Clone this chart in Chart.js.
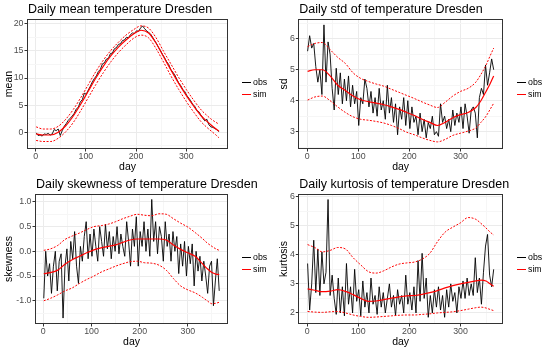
<!DOCTYPE html>
<html>
<head>
<meta charset="utf-8">
<script src="https://cdn.jsdelivr.net/npm/chart.js@4.4.0/dist/chart.umd.min.js"></script>
<style>
  body { margin: 0; background: #fff; font-family: "Liberation Sans", Arial, sans-serif; }
  #wrap { position: relative; width: 550px; height: 350px; }
  .panel { position: absolute; width: 275px; height: 175px; }
  .legend { position: absolute; left: 242px; top: 77px; }
  .item { position: relative; height: 11.5px; line-height: 11.5px; font-size: 8.8px; color: #000; padding-left: 11px; }
  .key { position: absolute; left: 0; top: 5px; width: 9px; height: 1.4px; }
</style>
</head>
<body>
<div id="wrap">
  <div class="panel" style="left:0;top:0"><canvas id="c1" width="275" height="175"></canvas>
    <div class="legend"><div class="item"><span class="key" style="background:#000"></span>obs</div><div class="item"><span class="key" style="background:red"></span>sim</div></div></div>
  <div class="panel" style="left:275px;top:0"><canvas id="c2" width="275" height="175"></canvas>
    <div class="legend"><div class="item"><span class="key" style="background:#000"></span>obs</div><div class="item"><span class="key" style="background:red"></span>sim</div></div></div>
  <div class="panel" style="left:0;top:175px"><canvas id="c3" width="275" height="175"></canvas>
    <div class="legend"><div class="item"><span class="key" style="background:#000"></span>obs</div><div class="item"><span class="key" style="background:red"></span>sim</div></div></div>
  <div class="panel" style="left:275px;top:175px"><canvas id="c4" width="275" height="175"></canvas>
    <div class="legend"><div class="item"><span class="key" style="background:#000"></span>obs</div><div class="item"><span class="key" style="background:red"></span>sim</div></div></div>
</div>
<script>
  // Tage der Beobachtungen (jeder 4. Tag) und der Simulationskurven
  const obsDays = [1,5,9,13,17,21,25,29,33,37,41,45,49,53,57,61,65,69,73,77,81,85,89,93,97,101,105,109,113,117,121,125,129,133,137,141,145,149,153,157,161,165,169,173,177,181,185,189,193,197,201,205,209,213,217,221,225,229,233,237,241,245,249,253,257,261,265,269,273,277,281,285,289,293,297,301,305,309,313,317,321,325,329,333,337,341,345,349,353,357,361,365];
  const simDays = [1,15,30,45,60,75,90,105,120,135,150,165,180,195,210,225,240,255,270,285,300,315,330,340,350,358,365];

  // x-Achse
  const xMajor = [0, 100, 200, 300];
  const xMinor = [50, 150, 250, 350];

  // Mittelwert
  const meanObs = [-0.1,-0.6,-0.5,-0.7,-0.3,-0.4,-0.2,-0.5,-0.3,0.5,
    0.3,0.6,-0.6,0.3,1.1,1.6,2.2,2.6,3.0,3.5,
    4.3,4.6,5.6,6.0,7.2,7.0,7.8,8.5,9.3,9.9,
    10.4,11.2,11.6,12.6,12.8,13.5,13.6,14.5,14.6,15.4,
    15.6,16.2,16.3,16.9,17.0,17.5,17.4,18.0,18.3,18.2,
    18.7,18.6,19.2,19.6,19.1,18.7,18.4,18.1,17.5,16.9,
    16.3,15.6,15.0,14.3,13.7,13.0,12.5,11.6,11.1,10.6,
    9.8,9.1,8.6,7.9,7.5,6.8,6.3,5.8,5.1,4.8,
    4.0,3.8,3.2,2.6,2.1,2.4,1.4,1.0,0.9,0.7,
    0.5,0.1];
  const meanSim = [-0.3,-0.5,-0.5,0.0,1.2,3.0,5.2,7.6,10.0,12.2,14.1,15.7,17.0,18.1,18.8,18.3,16.4,13.9,11.4,9.0,6.8,4.8,3.0,2.1,1.3,0.7,0.2];
  const meanUpper = [1.0,0.6,0.6,1.1,2.4,4.2,6.4,8.8,11.2,13.3,15.1,16.6,17.9,18.9,19.6,19.2,17.4,14.9,12.5,10.1,7.9,5.9,4.1,3.2,2.4,1.9,1.5];
  const meanLower = [-1.5,-1.7,-1.7,-1.1,0.1,1.8,4.0,6.4,8.8,11.0,13.0,14.7,16.1,17.3,17.9,17.4,15.4,12.9,10.3,7.9,5.7,3.7,1.9,1.0,0.2,-0.4,-1.0];
  const meanTicks = [0, 5, 10, 15, 20];
  const meanMinor = [-2.5, 2.5, 7.5, 12.5, 17.5];

  // Standardabweichung
  const sdObs = [5.6,6.1,5.7,5.85,5.1,4.6,5.0,4.2,6.45,4.6,
    5.9,5.5,4.4,3.7,5.05,4.2,4.9,3.9,4.7,4.0,
    4.8,3.8,4.5,3.9,4.3,3.2,4.1,3.9,4.7,4.4,
    3.8,4.3,3.6,4.1,3.5,4.4,3.7,4.0,3.4,4.5,
    3.6,4.1,3.3,3.9,2.9,3.8,3.4,4.1,3.2,4.0,
    3.1,3.8,3.3,3.5,2.9,3.6,3.0,3.4,2.8,3.3,
    3.1,3.5,2.9,3.0,2.85,3.9,3.3,3.5,3.1,3.4,
    3.0,3.7,3.2,3.6,3.3,3.8,3.1,3.9,3.5,2.95,
    3.7,3.8,3.6,2.8,4.1,4.4,4.2,5.15,4.5,4.9,
    5.35,5.0];
  const sdSim = [4.95,5.0,5.0,4.8,4.5,4.33,4.15,4.03,3.97,3.92,3.87,3.8,3.72,3.62,3.52,3.4,3.3,3.2,3.3,3.45,3.55,3.62,3.78,4.0,4.3,4.55,4.8];
  const sdUpper = [5.75,5.85,5.88,5.65,5.4,5.2,4.9,4.72,4.62,4.54,4.47,4.37,4.27,4.17,4.07,3.96,3.86,3.78,3.95,4.15,4.3,4.4,4.6,4.85,5.15,5.45,5.7];
  const sdLower = [4.02,4.12,4.15,4.0,3.8,3.62,3.48,3.4,3.37,3.33,3.28,3.2,3.1,2.98,2.9,2.8,2.72,2.67,2.75,2.88,2.95,3.02,3.12,3.3,3.5,3.72,3.92];
  const sdTicks = [3, 4, 5, 6];
  const sdMinor = [2.5, 3.5, 4.5, 5.5, 6.5];

  // Schiefe
  const skewObs = [-0.95,0.0,-0.5,-0.25,-0.85,-0.3,0.0,-0.8,-0.2,-0.05,
    -1.35,-0.3,0.05,-0.6,0.2,-0.15,0.4,-0.3,-0.65,0.1,
    -0.2,0.3,0.6,-0.15,0.35,-0.1,0.45,0.1,-0.2,0.5,
    0.2,-0.1,0.55,0.05,0.4,-0.15,0.3,0.0,0.5,-0.05,
    0.35,0.1,-0.1,0.6,0.2,-0.3,0.45,0.1,0.7,-0.3,
    0.4,0.1,0.6,0.0,0.45,-0.1,1.05,0.2,0.6,-0.05,
    0.5,0.3,-0.2,0.6,0.1,0.35,-0.2,0.4,0.0,0.3,
    -0.45,0.15,-0.3,0.2,-0.5,0.1,-0.25,0.15,-0.7,0.0,
    -0.4,-0.1,-0.6,-0.2,-0.5,-0.85,-0.3,-0.2,-1.1,-0.6,
    -0.15,-0.8];
  const skewSim = [-0.45,-0.43,-0.38,-0.26,-0.17,-0.1,-0.03,0.03,0.07,0.1,0.13,0.18,0.23,0.25,0.25,0.25,0.25,0.23,0.13,0.04,-0.03,-0.1,-0.25,-0.35,-0.43,-0.46,-0.47];
  const skewUpper = [0.02,0.05,0.12,0.24,0.31,0.37,0.44,0.5,0.52,0.55,0.6,0.66,0.71,0.75,0.73,0.72,0.76,0.75,0.66,0.57,0.49,0.38,0.26,0.17,0.1,0.05,0.02];
  const skewLower = [-1.0,-0.95,-0.88,-0.8,-0.74,-0.65,-0.57,-0.5,-0.42,-0.36,-0.3,-0.25,-0.21,-0.2,-0.23,-0.24,-0.28,-0.38,-0.55,-0.7,-0.78,-0.84,-0.93,-1.0,-1.06,-1.05,-1.03];
  const skewTicks = [-1.0, -0.5, 0.0, 0.5, 1.0];
  const skewMinor = [-1.25, -0.75, -0.25, 0.25, 0.75];

  // Kurtosis
  const kurtObs = [3.7,2.1,3.0,4.5,2.7,4.2,2.6,4.1,3.0,3.4,
    5.9,2.6,3.3,2.5,1.95,3.2,2.0,2.9,1.9,3.7,
    2.3,2.9,2.0,3.5,2.4,2.8,1.9,3.1,2.2,2.7,
    2.0,3.2,2.3,2.6,1.95,2.9,2.2,2.7,2.0,2.5,
    3.0,2.2,2.6,1.9,2.8,2.3,2.6,2.0,3.3,2.3,
    2.7,2.1,2.9,2.0,3.8,2.4,4.05,2.5,3.2,1.85,
    2.6,2.0,2.8,2.2,2.9,2.1,2.6,1.85,2.8,2.2,
    3.0,2.4,2.7,2.0,2.9,2.5,3.1,2.5,3.2,2.6,
    3.0,2.6,3.9,2.7,3.2,2.3,3.4,4.3,4.7,3.3,
    2.9,3.5];
  const kurtSim = [2.83,2.78,2.73,2.75,2.8,2.74,2.63,2.5,2.4,2.41,2.46,2.51,2.55,2.59,2.6,2.64,2.7,2.77,2.86,2.94,3.0,3.05,3.1,3.13,3.1,3.0,2.92];
  const kurtUpper = [4.35,4.25,4.1,4.15,4.25,4.2,3.9,3.65,3.42,3.37,3.45,3.58,3.68,3.72,3.75,3.85,4.05,4.45,4.78,4.95,5.1,5.28,5.22,5.08,4.92,4.78,4.68];
  const kurtLower = [2.05,2.03,2.02,2.04,2.05,2.0,1.93,1.88,1.85,1.86,1.88,1.9,1.92,1.93,1.93,1.95,1.97,2.0,2.02,2.04,2.08,2.13,2.18,2.2,2.17,2.12,2.08];
  const kurtTicks = [2, 3, 4, 5, 6];
  const kurtMinor = [2.5, 3.5, 4.5, 5.5];

  Chart.defaults.font.family = '"Liberation Sans", Arial, Helvetica, sans-serif';

  // Rahmen um die Zeichenfläche (wie theme_bw)
  const panelBorder = {
    id: 'panelBorder',
    afterDraw(chart) {
      const { ctx, chartArea: a } = chart;
      ctx.save();
      ctx.strokeStyle = '#333333';
      ctx.lineWidth = 1;
      ctx.strokeRect(Math.round(a.left) + 0.5, Math.round(a.top) + 0.5,
        Math.round(a.right - a.left) - 1, Math.round(a.bottom - a.top) - 1);
      ctx.restore();
    }
  };

  // Titel linksbündig an der Zeichenfläche, darf darüber hinausragen
  const panelTitle = {
    id: 'panelTitle',
    afterDraw(chart, args, opts) {
      const ctx = chart.ctx;
      ctx.save();
      ctx.font = '12.5px "Liberation Sans", Arial, sans-serif';
      ctx.fillStyle = '#000';
      ctx.textBaseline = 'middle';
      ctx.textAlign = 'left';
      ctx.fillText(opts.text, chart.chartArea.left + 1, 9.5);
      ctx.restore();
    }
  };

  function toPoints(days, vals) {
    return days.map((d, i) => ({ x: d, y: vals[i] }));
  }

  function gridFor(major) {
    return {
      color: c => (c.tick && major.includes(c.tick.value)) ? '#EBEBEB' : '#F6F6F6',
      tickColor: c => (c.tick && major.includes(c.tick.value)) ? '#333333' : 'rgba(0,0,0,0)',
      tickLength: 2.5,
      lineWidth: 1
    };
  }

  function drawPanel(id, p) {
    const dashed = { borderColor: 'red', borderWidth: 1, borderDash: [2, 1.5], cubicInterpolationMode: 'monotone' };
    new Chart(document.getElementById(id), {
      type: 'line',
      data: {
        datasets: [
          { label: 'upper', data: toPoints(simDays, p.upper), ...dashed },
          { label: 'lower', data: toPoints(simDays, p.lower), ...dashed },
          { label: 'sim', data: toPoints(simDays, p.sim), borderColor: 'red', borderWidth: 1.2, cubicInterpolationMode: 'monotone' },
          { label: 'obs', data: toPoints(obsDays, p.obs), borderColor: '#000', borderWidth: 0.9 }
        ]
      },
      options: {
        responsive: false,
        animation: false,
        devicePixelRatio: 1,
        layout: { padding: { left: 0, right: 47, top: 19, bottom: 0 } },
        elements: { point: { radius: 0 } },
        plugins: {
          legend: { display: false },
          tooltip: { enabled: false },
          title: { display: false },
          panelTitle: { text: p.title }
        },
        scales: {
          x: {
            type: 'linear', min: -17.2, max: 383.2,
            afterBuildTicks: s => { s.ticks = xMajor.concat(xMinor).sort((a, b) => a - b).map(v => ({ value: v })); },
            afterFit: s => { s.height = 26; },
            ticks: {
              autoSkip: false, maxRotation: 0, padding: 0, color: '#4D4D4D', font: { size: 8.8 },
              callback: v => xMajor.includes(v) ? String(v) : ''
            },
            grid: gridFor(xMajor),
            border: { display: false },
            title: { display: true, text: 'day', color: '#000', font: { size: 10.5 }, padding: { top: 0, bottom: 2 } }
          },
          y: {
            type: 'linear', min: p.yMin, max: p.yMax,
            afterBuildTicks: s => { s.ticks = p.yTicks.concat(p.yMinor).sort((a, b) => a - b).map(v => ({ value: v })); },
            afterFit: s => { s.width = p.yWidth; },
            ticks: {
              autoSkip: false, padding: 1, color: '#4D4D4D', font: { size: 8.8 },
              callback: v => p.yTicks.includes(v) ? v.toFixed(p.dec) : ''
            },
            grid: gridFor(p.yTicks),
            border: { display: false },
            title: { display: true, text: p.yTitle, color: '#000', font: { size: 10.5 }, padding: { top: 3, bottom: 0 } }
          }
        }
      },
      plugins: [panelBorder, panelTitle]
    });
  }

  drawPanel('c1', { title: 'Daily mean temperature Dresden', yTitle: 'mean', yMin: -3.08, yMax: 20.87, yWidth: 27,
    yTicks: meanTicks, yMinor: meanMinor, dec: 0, obs: meanObs, sim: meanSim, upper: meanUpper, lower: meanLower });
  drawPanel('c2', { title: 'Daily std of temperature Dresden', yTitle: 'sd', yMin: 2.44, yMax: 6.64, yWidth: 23.3,
    yTicks: sdTicks, yMinor: sdMinor, dec: 0, obs: sdObs, sim: sdSim, upper: sdUpper, lower: sdLower });
  drawPanel('c3', { title: 'Daily skewness of temperature Dresden', yTitle: 'skewness', yMin: -1.47, yMax: 1.16, yWidth: 35,
    yTicks: skewTicks, yMinor: skewMinor, dec: 1, obs: skewObs, sim: skewSim, upper: skewUpper, lower: skewLower });
  drawPanel('c4', { title: 'Daily kurtosis of temperature Dresden', yTitle: 'kurtosis', yMin: 1.62, yMax: 6.09, yWidth: 23.3,
    yTicks: kurtTicks, yMinor: kurtMinor, dec: 0, obs: kurtObs, sim: kurtSim, upper: kurtUpper, lower: kurtLower });
</script>
</body>
</html>
